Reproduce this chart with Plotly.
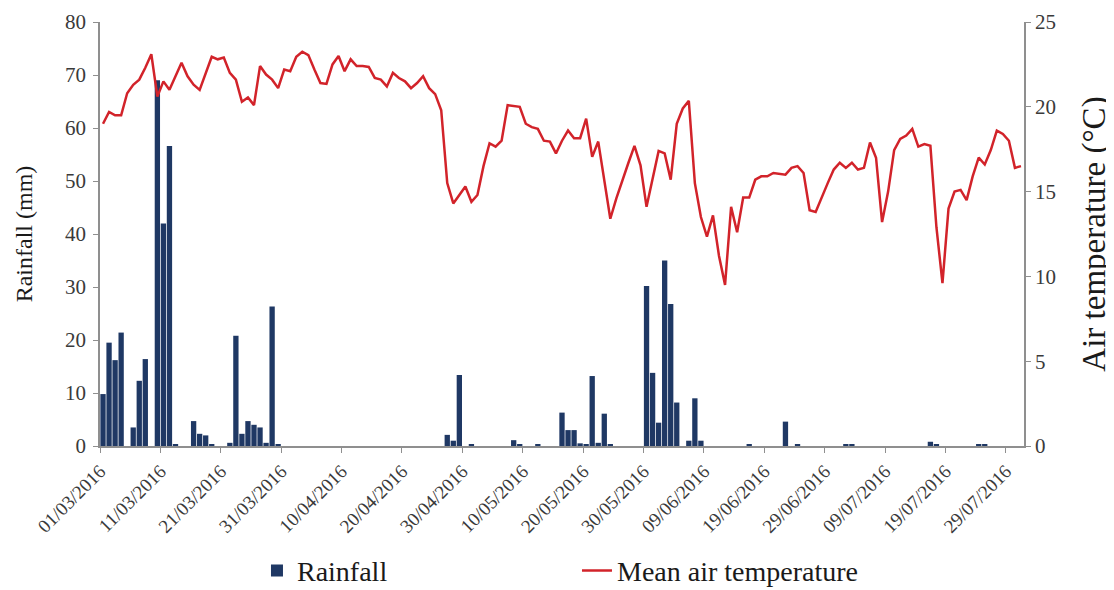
import pandas as pd
import plotly.graph_objects as go

start_date = "2016-03-01"
end_date = "2016-08-01"

rainfall_mm = [
    9.8, 19.5, 16.2, 21.4, 0, 3.5, 12.3, 16.4, 0, 69.0,
    42.0, 56.6, 0.2, 0, 0, 4.7, 2.3, 2.0, 0.2, 0,
    0, 0.6, 20.8, 2.3, 4.7, 4.0, 3.5, 0.6, 26.3, 0.2,
    0, 0, 0, 0, 0, 0, 0, 0, 0, 0,
    0, 0, 0, 0, 0, 0, 0, 0, 0, 0,
    0, 0, 0, 0, 0, 0, 0, 2.1, 1.0, 13.4,
    0, 0.3, 0, 0, 0, 0, 0, 0, 1.1, 0.3,
    0, 0, 0.3, 0, 0, 0, 6.3, 3.0, 3.0, 0.5,
    0.3, 13.2, 0.6, 6.1, 0.3, 0, 0, 0, 0, 0,
    30.2, 13.8, 4.4, 35.0, 26.8, 8.2, 0, 1.0, 9.0, 1.0,
    0, 0, 0, 0, 0, 0, 0, 0.2, 0, 0,
    0, 0, 0, 4.6, 0, 0.3, 0, 0, 0, 0,
    0, 0, 0, 0.2, 0.2, 0, 0, 0, 0, 0,
    0, 0, 0, 0, 0, 0, 0, 0.8, 0.3, 0,
    0, 0, 0, 0, 0, 0.2, 0.2, 0, 0, 0,
    0, 0, 0,
]

mean_temp_c = [
    19.0, 19.7, 19.5, 19.5, 20.8, 21.3, 21.6, 22.3, 23.1, 20.6,
    21.5, 21.0, 21.8, 22.6, 21.8, 21.3, 21.0, 22.0, 22.95, 22.8,
    22.9, 22.0, 21.6, 20.3, 20.55, 20.1, 22.4, 21.9, 21.6, 21.1,
    22.2, 22.1, 22.95, 23.25, 23.05, 22.2, 21.4, 21.35, 22.5, 23.0,
    22.1, 22.8, 22.4, 22.4, 22.35, 21.7, 21.6, 21.2, 22.0, 21.7,
    21.5, 21.1, 21.4, 21.8, 21.1, 20.75, 19.8, 15.5, 14.3, 14.8,
    15.3, 14.4, 14.8, 16.5, 17.85, 17.65, 18.0, 20.1, 20.05, 20.0,
    19.0, 18.8, 18.7, 18.0, 17.95, 17.25, 18.0, 18.6, 18.15, 18.15,
    19.3, 17.05, 17.95, 15.7, 13.4, 14.6, 15.7, 16.7, 17.7, 16.55,
    14.1, 15.8, 17.4, 17.25, 15.7, 19.0, 19.9, 20.35, 15.5, 13.5,
    12.35, 13.6, 11.2, 9.5, 14.1, 12.6, 14.65, 14.65, 15.7, 15.9,
    15.9, 16.1, 16.05, 16.0, 16.4, 16.5, 16.1, 13.9, 13.8, 14.7,
    15.5, 16.3, 16.7, 16.4, 16.7, 16.3, 16.4, 17.9, 17.0, 13.2,
    15.0, 17.45, 18.1, 18.3, 18.7, 17.65, 17.8, 17.7, 12.9, 9.6,
    14.0, 15.0, 15.1, 14.5, 15.9, 17.0, 16.6, 17.45, 18.6, 18.4,
    18.0, 16.4, 16.5,
]

dates = pd.date_range(start_date, periods=len(rainfall_mm), freq="D")

SERIF = "Liberation Serif, Times New Roman, serif"
AXIS_GRAY = "#8f8f8f"
TEXT = "#1a1a1a"
Y_TICK_FONT = dict(family=SERIF, size=21, color="#3a3a3a")
X_TICK_FONT = dict(family=SERIF, size=19, color="#3a3a3a")
DAY_MS = 86400000

fig = go.Figure()
fig.add_trace(go.Bar(
    x=dates, y=rainfall_mm, name="Rainfall",
    marker=dict(color="#1f3864", line=dict(width=0)),
    xperiod=DAY_MS, xperiodalignment="middle",
    yaxis="y",
))
fig.add_trace(go.Scatter(
    x=dates, y=mean_temp_c, name="Mean air temperature",
    mode="lines", line=dict(color="#d2232a", width=2.5),
    xperiod=DAY_MS, xperiodalignment="middle",
    yaxis="y2",
))

fig.update_layout(
    width=1114, height=590,
    margin=dict(l=92, r=98, t=14, b=152),
    plot_bgcolor="white", paper_bgcolor="white",
    bargap=0.12,
    font=dict(family=SERIF, color=TEXT),
    xaxis=dict(
        type="date", automargin=False,
        range=[start_date, end_date],
        tick0=start_date, dtick=10 * DAY_MS,
        tickformat="%d/%m/%Y", tickangle=-45,
        tickfont=X_TICK_FONT,
        ticks="outside", ticklen=5, tickcolor=AXIS_GRAY,
        showline=True, linecolor=AXIS_GRAY, linewidth=1.5,
        showgrid=False, zeroline=False,
    ),
    yaxis=dict(
        range=[0, 80], dtick=10, automargin="left",
        title=dict(text="Rainfall (mm)", font=dict(family=SERIF, size=24, color=TEXT), standoff=26),
        tickfont=Y_TICK_FONT, ticklabelstandoff=3,
        ticks="outside", ticklen=5, tickcolor=AXIS_GRAY,
        showline=True, linecolor=AXIS_GRAY, linewidth=1.5,
        showgrid=False, zeroline=False,
    ),
    yaxis2=dict(
        range=[0, 25], dtick=5, overlaying="y", side="right", automargin="right",
        title=dict(text="Air temperature (°C)", font=dict(family=SERIF, size=33, color=TEXT), standoff=27),
        tickfont=Y_TICK_FONT,
        ticks="outside", ticklen=5, tickcolor=AXIS_GRAY,
        showline=True, linecolor=AXIS_GRAY, linewidth=1.5,
        showgrid=False, zeroline=False,
    ),
    legend=dict(
        orientation="h", xref="container", yref="container",
        x=0.2235, xanchor="left", y=0.046, yanchor="middle",
        font=dict(family=SERIF, size=28, color=TEXT),
        entrywidth=275, entrywidthmode="pixels",
        bgcolor="rgba(0,0,0,0)",
    ),
)

fig.write_html("out.html")
